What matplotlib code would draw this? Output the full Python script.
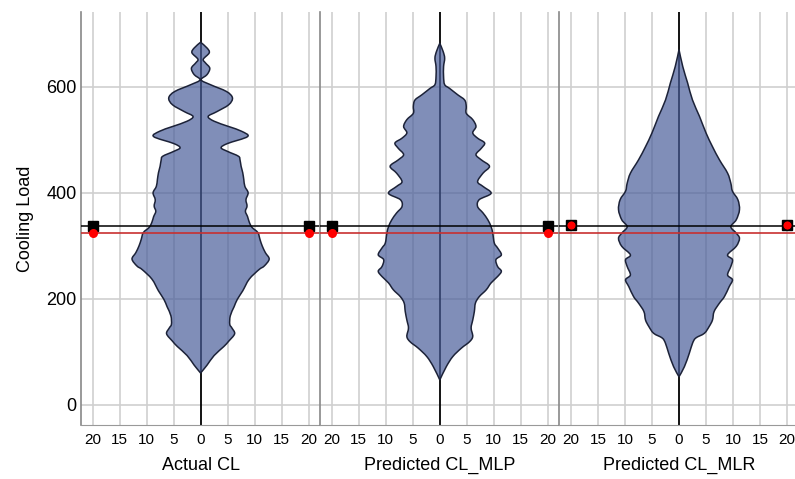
import matplotlib.pyplot as plt
import numpy as np
from matplotlib.path import Path
from matplotlib.patches import PathPatch

plt.rcParams['font.family'] = ['Liberation Sans', 'DejaVu Sans']

# panel titles
panels = ["Actual CL", "Predicted CL_MLP", "Predicted CL_MLR"]

# half widths (frequency) of each mirrored shape, read at these Cooling Load values
actual_y = [60, 75, 93, 110, 120, 134, 145, 152, 168, 185, 199, 215, 237, 255, 262, 275,
            287, 300, 312, 325, 335, 345, 355, 365, 375, 387, 400, 412, 425, 438, 450, 462,
            469, 478, 485, 493, 506, 516, 525, 535, 544, 553, 566, 579, 591, 604, 613, 623,
            635, 645, 652, 664, 673, 684]
actual_w = [0, 1.2, 2.5, 4.3, 5.2, 6.3, 5.8, 5.4, 5.5, 6.2, 6.8, 7.8, 9.0, 10.8, 11.8, 12.7,
            12.0, 11.4, 11.0, 10.6, 9.5, 9.0, 8.7, 8.3, 8.6, 8.4, 8.8, 8.2, 8.0, 7.8, 7.5, 7.3,
            7.0, 5.0, 3.8, 5.0, 8.7, 7.6, 5.2, 2.5, 1.4, 3.0, 5.2, 5.9, 4.8, 1.8, 0.1, 1.2,
            1.7, 0.9, 0.5, 1.6, 1.2, 0]

mlp_y = [47, 72, 91, 107, 119, 129, 145, 160, 176, 192, 204, 217, 230, 242, 252, 261, 274,
         283, 296, 305, 324, 336, 349, 362, 374, 387, 399, 412, 421, 437, 450, 462, 472, 484,
         494, 503, 513, 525, 538, 550, 563, 575, 585, 597, 604, 619, 638, 654, 667, 682]
mlp_w = [0, 1.2, 2.4, 4.0, 5.5, 6.1, 5.8, 6.1, 6.4, 6.6, 7.3, 8.6, 9.5, 10.7, 11.4, 10.7, 10.4,
         11.4, 10.7, 10.1, 9.8, 9.5, 8.9, 8.0, 7.0, 7.3, 9.5, 8.0, 7.0, 8.0, 9.2, 7.7, 6.7, 7.7,
         8.3, 7.0, 6.1, 6.7, 6.1, 4.9, 4.9, 4.6, 3.3, 1.8, 0.9, 0.7, 0.7, 0.9, 0.6, 0]

mlr_y = [53, 72, 97, 116, 126, 135, 148, 160, 176, 192, 204, 223, 236, 245, 261, 274, 283,
         299, 314, 324, 336, 349, 368, 387, 403, 418, 437, 462, 487, 513, 544, 575, 607, 638, 670]
mlr_w = [0, 1.0, 1.9, 2.5, 3.1, 4.7, 5.6, 6.2, 6.5, 7.5, 8.4, 9.3, 9.9, 9.0, 9.6, 9.9, 9.0,
         10.6, 11.2, 10.6, 9.6, 10.6, 11.2, 10.9, 9.9, 9.6, 9.0, 7.5, 6.2, 5.0, 3.8, 2.5, 1.6, 0.7, 0]

shapes = [(actual_y, actual_w), (mlp_y, mlp_w), (mlr_y, mlr_w)]

# mean (black square) and median (red circle) per panel
means = [338, 338, 340]
medians = [325, 325, 340]
ref_mean = 337.5
ref_median = 324

xticks = [-20, -15, -10, -5, 0, 5, 10, 15, 20]
yticks = [0, 200, 400, 600]


def smooth_outline(xs, ys):
    # Catmull-Rom curve through the points, written as cubic bezier segments
    pts = np.column_stack([xs, ys]).astype(float)
    verts = [pts[0]]
    codes = [Path.MOVETO]
    n = len(pts)
    for i in range(n - 1):
        p0 = pts[max(i - 1, 0)]
        p1 = pts[i]
        p2 = pts[i + 1]
        p3 = pts[min(i + 2, n - 1)]
        verts += [p1 + (p2 - p0) / 6, p2 - (p3 - p1) / 6, p2]
        codes += [Path.CURVE4] * 3
    return verts, codes


fig = plt.figure(figsize=(7.95, 4.79), dpi=100)
left = 81 / 795
pw = 239.2 / 795
bottom = 54 / 479
height = 413 / 479

for i, name in enumerate(panels):
    ax = fig.add_axes([left + i * pw, bottom, pw, height])
    ax.set_xlim(-22.15, 22.15)
    ax.set_ylim(-38, 741)

    for x in xticks:
        if x != 0:
            ax.axvline(x, color='#cfcfcf', lw=1.2, zorder=1)
    for y in yticks:
        ax.axhline(y, color='#cfcfcf', lw=1.2, zorder=1)
    ax.axvline(0, color='black', lw=1.3, zorder=2)

    y, w = shapes[i]
    w = np.array(w)
    rv, rc = smooth_outline(w, y)
    lv, lc = smooth_outline(-w[::-1], y[::-1])
    verts = rv + lv[1:] + [rv[0]]
    codes = rc + lc[1:] + [Path.CLOSEPOLY]
    ax.add_patch(PathPatch(Path(verts, codes), facecolor='#4a5f9a', alpha=0.7,
                           lw=0, zorder=3))
    ax.add_patch(PathPatch(Path(verts, codes), facecolor='none', edgecolor='#1c2238',
                           lw=1.1, zorder=4))

    ax.axhline(ref_mean, color='black', lw=1.1, zorder=5)
    ax.axhline(ref_median, color='#c83030', lw=1.2, zorder=5)

    ax.plot([-20, 20], [means[i]] * 2, 's', color='black', ms=7, zorder=6)
    ax.plot([-20, 20], [medians[i]] * 2, 'o', color='red', ms=6.5,
            mec='black' if i == 2 else 'red', mew=0.6 if i == 2 else 0, zorder=7)

    ax.set_xticks(xticks)
    ax.set_xticklabels([str(abs(x)) for x in xticks])
    ax.tick_params(axis='x', length=0, labelsize=11, pad=6)
    ax.set_xlabel(name, fontsize=13, labelpad=7)

    for s in ['top', 'right']:
        ax.spines[s].set_visible(False)
    ax.spines['bottom'].set_color('#999999')
    ax.spines['left'].set_color('#888888')
    ax.spines['left'].set_linewidth(1.2)

    if i == 0:
        ax.set_yticks(yticks)
        ax.tick_params(axis='y', length=0, labelsize=13, pad=3)
        ax.set_ylabel("Cooling Load", fontsize=13, labelpad=9)
    else:
        ax.set_yticks([])

fig.savefig("out.png", dpi=100)
